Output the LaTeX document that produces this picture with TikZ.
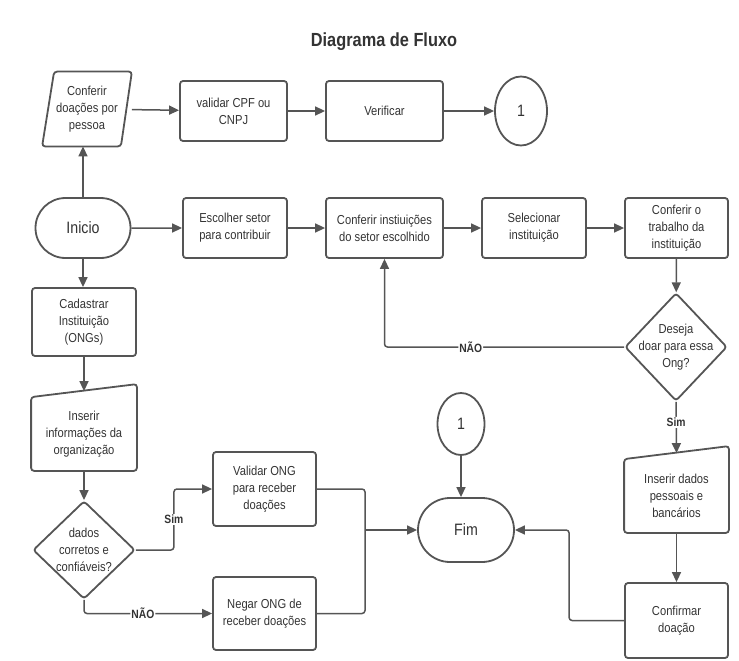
\documentclass[tikz,border=0pt]{standalone}
\usepackage{fontspec}
\setmainfont{Liberation Sans}[FakeStretch=0.86]
\usetikzlibrary{shapes.geometric,shapes.misc,arrows.meta}
\definecolor{linegray}{HTML}{555555}
\definecolor{textgray}{HTML}{333333}

\tikzset{
  box/.style={draw=linegray, line width=1.8pt, rounded corners=3pt, align=center,
    text=textgray, font=\fontsize{13}{17}\selectfont,
    minimum width=104pt, minimum height=60pt, inner sep=1pt},
  inbox/.style={box, draw=none},
  term/.style={box, rounded rectangle, sharp corners, minimum width=97pt,
    minimum height=60pt, font=\fontsize{16.5}{20}\selectfont},
  decision/.style={diamond, draw=linegray, line width=1.8pt, rounded corners=3pt,
    minimum width=102pt, minimum height=108pt, inner sep=0pt},
  conn/.style={ellipse, draw=linegray, line width=1.8pt, text=textgray,
    font=\fontsize{16.5}{20}\selectfont},
  txt/.style={align=center, text=textgray, font=\fontsize{13}{17}\selectfont},
  lbl/.style={fill=white, text=textgray, font=\bfseries\fontsize{12}{14}\selectfont, inner sep=1pt},
  outline/.style={draw=linegray, line width=1.8pt, rounded corners=3pt},
  flow/.style={draw=linegray, line width=1.5pt, rounded corners=3pt, -{Triangle[length=10pt,width=9pt]}},
  link/.style={draw=linegray, line width=1.5pt, rounded corners=3pt},
}

\begin{document}
\begin{tikzpicture}[x=1pt, y=-1pt]
  \useasboundingbox (0,0) rectangle (739,661);
  \node[font=\bfseries\fontsize{19}{22}\selectfont, text=textgray] (title) at (384,42) {Diagrama de Fluxo};

  % top row
  \node[inbox, minimum width=88pt, minimum height=73pt] (confdoac) at (87,109) {Conferir\\doações por\\pessoa};
  \draw[outline] ([xshift=12pt]confdoac.north west) -- (confdoac.north east)
    -- ([xshift=-11pt]confdoac.south east) -- (confdoac.south west) -- cycle;
  \node[box, minimum width=107pt] (valcpf) at (233.5,111) {validar CPF ou\\CNPJ};
  \node[box, minimum width=117pt] (verif) at (384.5,111) {Verificar};
  \node[conn, minimum width=52pt, minimum height=69pt] (conA) at (521,111) {1};

  % second row
  \node[term] (inicio) at (83,228) {Inicio};
  \node[box] (escsetor) at (235,228) {Escolher setor\\para contribuir};
  \node[box, minimum width=117pt] (confinst) at (384.5,228) {Conferir instiuições\\do setor escolhido};
  \node[box] (selinst) at (534,228) {Selecionar\\instituição};
  \node[box, minimum width=103pt] (conftrab) at (676.5,228) {Conferir o\\trabalho da\\instituição};

  % right column
  \node[decision] (doar) at (676,347) {};
  \node[txt] (doartxt) at (doar) {Deseja\\doar para essa\\Ong?};
  \node[inbox, minimum width=103pt, minimum height=72pt] (insdados) at (676.5,496) {Inserir dados\\pessoais e\\bancários};
  \draw[outline] (insdados.north west) -- ([yshift=13pt]insdados.north east)
    -- (insdados.south east) -- (insdados.south west) -- cycle;
  \node[box, minimum width=103pt, minimum height=75pt] (confirma) at (676.5,620.5) {Confirmar\\doação};

  % end
  \node[term, minimum width=98pt, minimum height=64pt] (fim) at (466,530) {Fim};
  \node[conn, minimum width=47pt, minimum height=62pt] (conB) at (461,424) {1};

  % left column
  \node[box, minimum height=68pt] (cadastro) at (84,322) {Cadastrar\\Instituição\\(ONGs)};
  \node[inbox, minimum width=104pt, minimum height=72pt] (insinfo) at (84,434) {Inserir\\informações da\\organização};
  \draw[outline] (insinfo.north west) -- ([yshift=13pt]insinfo.north east)
    -- (insinfo.south east) -- (insinfo.south west) -- cycle;
  \node[decision, minimum height=98pt] (dados) at (84,550) {};
  \node[txt] (dadostxt) at (dados) {dados\\corretos e\\confiáveis?};
  \node[box, minimum width=103pt, minimum height=74pt] (validong) at (264.5,489) {Validar ONG\\para receber\\doações};
  \node[box, minimum width=103pt, minimum height=73pt] (negarong) at (264.5,613.5) {Negar ONG de\\receber doações};
  \coordinate (junta) at (365,530);

  % connectors
  \draw[flow] (confdoac) -- (valcpf);
  \draw[flow] (valcpf) -- (verif);
  \draw[flow] (verif) -- (conA);
  \draw[flow] (inicio.north) -- (inicio.north |- confdoac.south);
  \draw[flow] (inicio) -- (escsetor);
  \draw[flow] (escsetor) -- (confinst);
  \draw[flow] (confinst) -- (selinst);
  \draw[flow] (selinst) -- (conftrab);
  \draw[flow] (conftrab) -- (doar);
  \draw[flow] (doar.west) -| (confinst.south) node[lbl, pos=0.32] (nao2) {NÃO};
  \draw[flow] (doar.south) -- ([yshift=6pt]insdados.north) node[lbl, pos=0.4] (sim2) {Sim};
  \draw[flow] (insdados) -- (confirma);
  \draw[flow] (confirma.west) -- ++(-55,0) |- (fim.east);
  \draw[flow] (conB.south) -- (conB.south |- fim.north);
  \draw[flow] (inicio.south) -- (inicio.south |- cadastro.north);
  \draw[flow] (cadastro) -- ([yshift=6pt]insinfo.north);
  \draw[flow] (insinfo) -- (dados);
  \draw[flow] (dados.east) -- ++(38,0) |- (validong.west) node[lbl, pos=0.25] (sim1) {Sim};
  \draw[flow] (dados.south) |- (negarong.west) node[lbl, pos=0.73] (nao1) {NÃO};
  \draw[link] (validong.east) -| (junta);
  \draw[link] (negarong.east) -| (junta);
  \draw[flow] (junta) -- (fim.west);
\end{tikzpicture}
\end{document}
